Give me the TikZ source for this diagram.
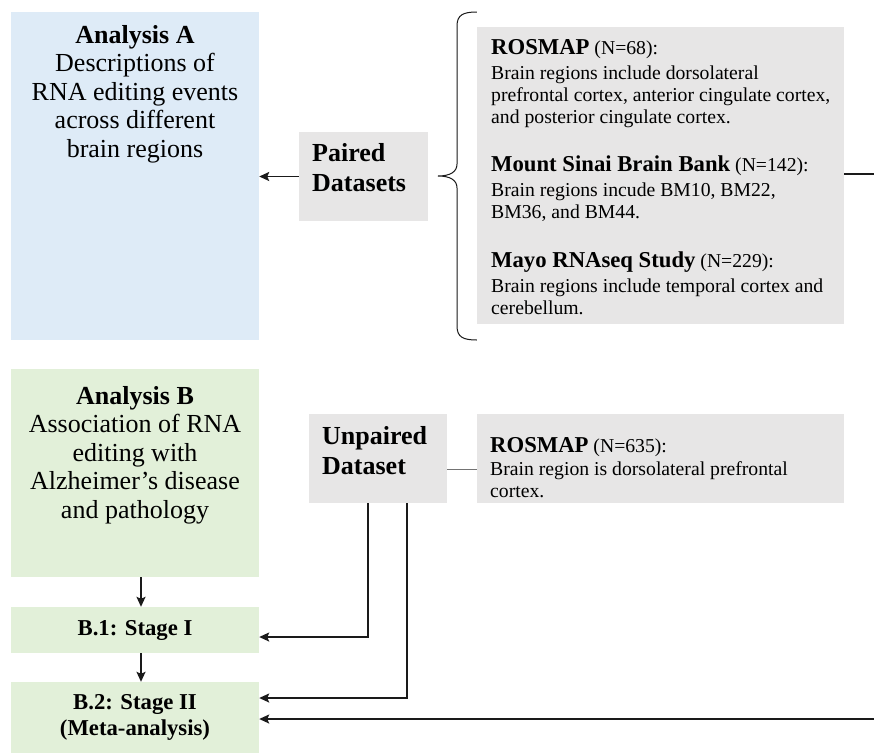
\documentclass[tikz,border=0pt]{standalone}
\usepackage{fontspec}
\setmainfont{Liberation Serif}
\usetikzlibrary{arrows.meta}
\definecolor{blueA}{HTML}{DEEBF7}
\definecolor{greenB}{HTML}{E2F0D9}
\definecolor{greyD}{HTML}{E7E6E6}
\definecolor{lineC}{HTML}{1A1A1A}
\begin{document}
\begin{tikzpicture}[x=1pt,y=-1pt,
  box/.style={rectangle, inner sep=0pt, draw=none},
  bigtext/.style={inner sep=0pt, align=center, font=\fontsize{26pt}{28.5pt}\selectfont},
  dstext/.style={inner sep=0pt, align=left, font=\fontsize{26pt}{30pt}\selectfont\bfseries},
  smalltext/.style={inner sep=0pt, align=left, font=\fontsize{19.7pt}{22pt}\selectfont},
  stagetext/.style={align=center, font=\fontsize{22.7pt}{26pt}\selectfont\bfseries},
  arr/.style={draw=lineC, line width=1.8pt, -{Stealth[length=10pt,width=9pt,inset=2pt]}},
  plainline/.style={draw=lineC, line width=1.8pt},
  thinline/.style={draw=black!55, line width=1pt},
  bracestyle/.style={draw=lineC, line width=1pt}
]
\fill[white] (0,0) rectangle (874,753);
\useasboundingbox (0,0) rectangle (874,753);

% boxes
\node[box, fill=blueA, minimum width=248pt, minimum height=328pt] (boxA) at (135,176) {};
\node[box, fill=greyD, minimum width=129pt, minimum height=89pt] (paired) at (363.5,176.5) {};
\node[box, fill=greyD, minimum width=367pt, minimum height=297pt] (grey1) at (660.5,175.5) {};
\node[box, fill=greenB, minimum width=248pt, minimum height=208pt] (boxB) at (135,473) {};
\node[box, fill=greyD, minimum width=138pt, minimum height=89pt] (unp) at (378,458.5) {};
\node[box, fill=greyD, minimum width=367pt, minimum height=89pt] (grey2) at (660.5,458.5) {};
\node[box, fill=greenB, minimum width=248pt, minimum height=46pt, stagetext] (b1) at (135,630) {B.1: Stage I};
\node[box, fill=greenB, minimum width=248pt, minimum height=71pt, stagetext] (b2) at (135,717.5) {B.2: Stage II\\(Meta-analysis)};

% texts
\node[bigtext, anchor=north] (tA) at (135,25) {\textbf{Analysis A}\\Descriptions of\\RNA editing events\\across different\\brain regions};
\node[bigtext, anchor=north] (tB) at (135,386) {\textbf{Analysis B}\\Association of RNA\\editing with\\Alzheimer’s disease\\and pathology};
\node[dstext, anchor=west] (tP) at (312,168) {Paired\\Datasets};
\node[dstext, anchor=west] (tU) at (322,451) {Unpaired\\Dataset};
\node[smalltext, anchor=north west] (tG1) at (491,38.8) {%
{\fontsize{22.7pt}{22pt}\selectfont\bfseries ROSMAP} (N=68):\\[3pt]
Brain regions include dorsolateral\\
prefrontal cortex, anterior cingulate cortex,\\
and posterior cingulate cortex.\\[26pt]
{\fontsize{22.7pt}{22pt}\selectfont\bfseries Mount Sinai Brain Bank} (N=142):\\[3pt]
Brain regions incude BM10, BM22,\\
BM36, and BM44.\\[27pt]
{\fontsize{22.7pt}{22pt}\selectfont\bfseries Mayo RNAseq Study} (N=229):\\[3pt]
Brain regions include temporal cortex and\\
cerebellum.};
\node[smalltext, anchor=north west] (tG2) at (490,437) {%
{\fontsize{22.7pt}{22pt}\selectfont\bfseries ROSMAP} (N=635):\\[1pt]
Brain region is dorsolateral prefrontal\\
cortex.};

% brace
\draw[bracestyle] (grey1.north west |- 0,12) .. controls (463,12) and (457,15) .. (457,26)
  -- (457,164) .. controls (457,172) and (450,176) .. (438,176)
  .. controls (450,176) and (457,180) .. (457,188)
  -- (457,326) .. controls (457,337) and (463,340) .. (grey1.south west |- 0,340);

% connectors
\coordinate (edgeT) at (874,174);
\coordinate (edgeB) at (874,719);
\draw[arr] (paired.west) -- (paired.west -| boxA.east);
\draw[plainline] (grey1.east |- edgeT) -- (edgeT);
\draw[thinline] ([yshift=-10.5pt]unp.east) -- ([yshift=-10.5pt]unp.east -| grey2.west);
\draw[arr] ([xshift=6pt]boxB.south) -- ([xshift=6pt]b1.north);
\draw[arr] ([xshift=6pt]b1.south) -- ([xshift=6pt]b2.north);
\draw[arr] ([xshift=59pt]unp.south west) |- ([yshift=-7pt]b1.east);
\draw[arr] ([xshift=98pt]unp.south west) |- ([yshift=19.5pt]b2.east);
\draw[arr] (edgeB) -- (edgeB -| b2.east);
\end{tikzpicture}
\end{document}
